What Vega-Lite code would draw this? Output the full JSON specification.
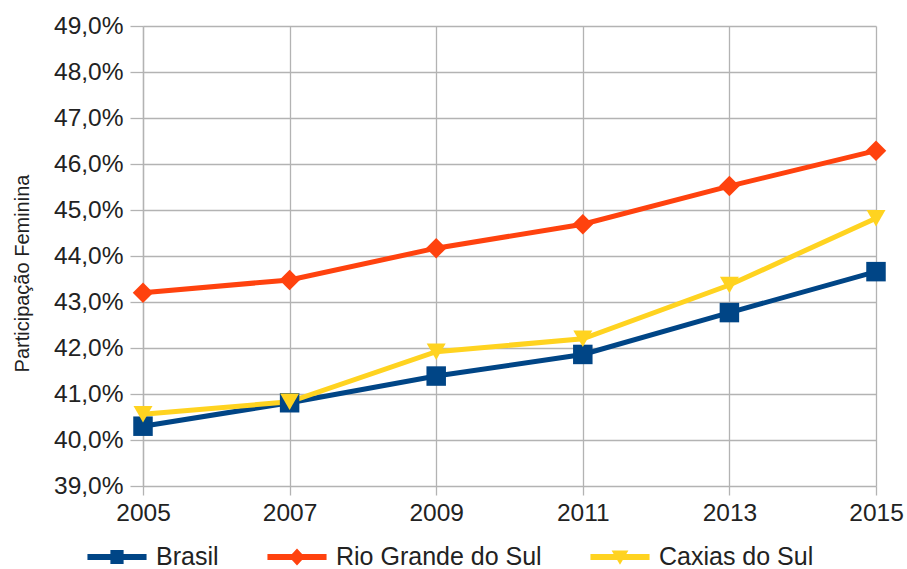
{
  "$schema": "https://vega.github.io/schema/vega-lite/v6.json",
  "width": 733,
  "height": 460,
  "autosize": {"type": "none"},
  "padding": {"left": 143, "top": 26, "right": 31, "bottom": 83},
  "background": "white",
  "config": {
    "locale": {"number": {"decimal": ",", "thousands": ".", "grouping": [3], "currency": ["R$", ""]}},
    "font": "Liberation Sans",
    "view": {"stroke": null},
    "axis": {
      "gridColor": "#b3b3b3", "gridWidth": 1.3, "domainColor": "#b3b3b3", "domainWidth": 1.3,
      "tickColor": "#b3b3b3", "tickWidth": 1.3,
      "labelFont": "Liberation Sans", "labelFontSize": 24.5, "labelColor": "#222222",
      "titleFont": "Liberation Sans", "titleColor": "#222222"
    }
  },
  "data": {"values": [
    {"ano": 2005, "serie": "Brasil", "valor": 0.4030},
    {"ano": 2007, "serie": "Brasil", "valor": 0.4081},
    {"ano": 2009, "serie": "Brasil", "valor": 0.4139},
    {"ano": 2011, "serie": "Brasil", "valor": 0.4186},
    {"ano": 2013, "serie": "Brasil", "valor": 0.4277},
    {"ano": 2015, "serie": "Brasil", "valor": 0.4366},
    {"ano": 2005, "serie": "Rio Grande do Sul", "valor": 0.4320},
    {"ano": 2007, "serie": "Rio Grande do Sul", "valor": 0.4348},
    {"ano": 2009, "serie": "Rio Grande do Sul", "valor": 0.4417},
    {"ano": 2011, "serie": "Rio Grande do Sul", "valor": 0.4469},
    {"ano": 2013, "serie": "Rio Grande do Sul", "valor": 0.4552},
    {"ano": 2015, "serie": "Rio Grande do Sul", "valor": 0.4629},
    {"ano": 2005, "serie": "Caxias do Sul", "valor": 0.4056},
    {"ano": 2007, "serie": "Caxias do Sul", "valor": 0.4083},
    {"ano": 2009, "serie": "Caxias do Sul", "valor": 0.4192},
    {"ano": 2011, "serie": "Caxias do Sul", "valor": 0.4220},
    {"ano": 2013, "serie": "Caxias do Sul", "valor": 0.4337},
    {"ano": 2015, "serie": "Caxias do Sul", "valor": 0.4482}
  ]},
  "encoding": {
    "x": {
      "field": "ano", "type": "quantitative",
      "scale": {"domain": [2005, 2015], "nice": false, "zero": false},
      "axis": {"values": [2005, 2007, 2009, 2011, 2013, 2015], "format": "d", "title": null,
               "tickSize": 9, "labelPadding": 6, "domain": false, "labelFlush": false}
    },
    "y": {
      "field": "valor", "type": "quantitative",
      "scale": {"domain": [0.39, 0.49], "nice": false, "zero": false},
      "axis": {"values": [0.39, 0.40, 0.41, 0.42, 0.43, 0.44, 0.45, 0.46, 0.47, 0.48, 0.49],
               "format": ".1%", "title": "Participação Feminina", "titleFontSize": 20,
               "titleFontWeight": "normal", "titleX": -121, "titleY": 247, "titleAngle": 270,
               "titleAlign": "center", "titleBaseline": "middle", "tickSize": 13, "labelPadding": 7}
    },
    "color": {
      "field": "serie", "type": "nominal",
      "scale": {"domain": ["Brasil", "Rio Grande do Sul", "Caxias do Sul"], "range": ["#004586", "#ff420e", "#ffd320"]},
      "legend": null
    }
  },
  "layer": [
    {
      "mark": {"type": "line", "strokeWidth": 5},
      "encoding": {
        "color": {
          "field": "serie", "type": "nominal",
          "scale": {"domain": ["Brasil", "Rio Grande do Sul", "Caxias do Sul"], "range": ["#004586", "#ff420e", "#ffd320"]},
          "legend": {
            "title": null, "orient": "none", "direction": "horizontal", "padding": 0,
            "legendX": -41, "legendY": 516,
            "labelFont": "Liberation Sans", "labelFontSize": 25, "labelColor": "#222222", "labelLimit": 400,
            "symbolSize": 900, "symbolStrokeWidth": 0, "labelOffset": 24, "columnPadding": 48,
            "encode": {
              "symbols": {
                "update": {
                  "shape": {"signal": "datum.value === 'Brasil' ? 'M-1.97,-0.2 L1.97,-0.2 L1.97,0.2 L-1.97,0.2 Z M-0.44,-0.46 L0.44,-0.46 L0.44,0.46 L-0.44,0.46 Z' : datum.value === 'Rio Grande do Sul' ? 'M-1.97,-0.2 L1.97,-0.2 L1.97,0.2 L-1.97,0.2 Z M0,-0.56 L0.52,0 L0,0.56 L-0.52,0 Z' : 'M-1.97,-0.2 L1.97,-0.2 L1.97,0.2 L-1.97,0.2 Z M-0.56,-0.44 L0.56,-0.44 L0,0.52 Z'"},
                  "fill": {"signal": "datum.value === 'Brasil' ? '#004586' : datum.value === 'Rio Grande do Sul' ? '#ff420e' : '#ffd320'"},
                  "stroke": {"value": "transparent"},
                  "strokeWidth": {"value": 0},
                  "opacity": {"value": 1}
                }
              }
            }
          }
        }
      }
    },
    {
      "transform": [{"filter": "datum.serie === 'Brasil'"}],
      "mark": {"type": "point", "filled": true, "opacity": 1, "size": 380, "shape": "square"}
    },
    {
      "transform": [{"filter": "datum.serie === 'Rio Grande do Sul'"}],
      "mark": {"type": "point", "filled": true, "opacity": 1, "size": 420, "shape": "diamond"}
    },
    {
      "transform": [{"filter": "datum.serie === 'Caxias do Sul'"}],
      "mark": {"type": "point", "filled": true, "opacity": 1, "size": 360, "shape": "triangle-down"}
    }
  ]
}
